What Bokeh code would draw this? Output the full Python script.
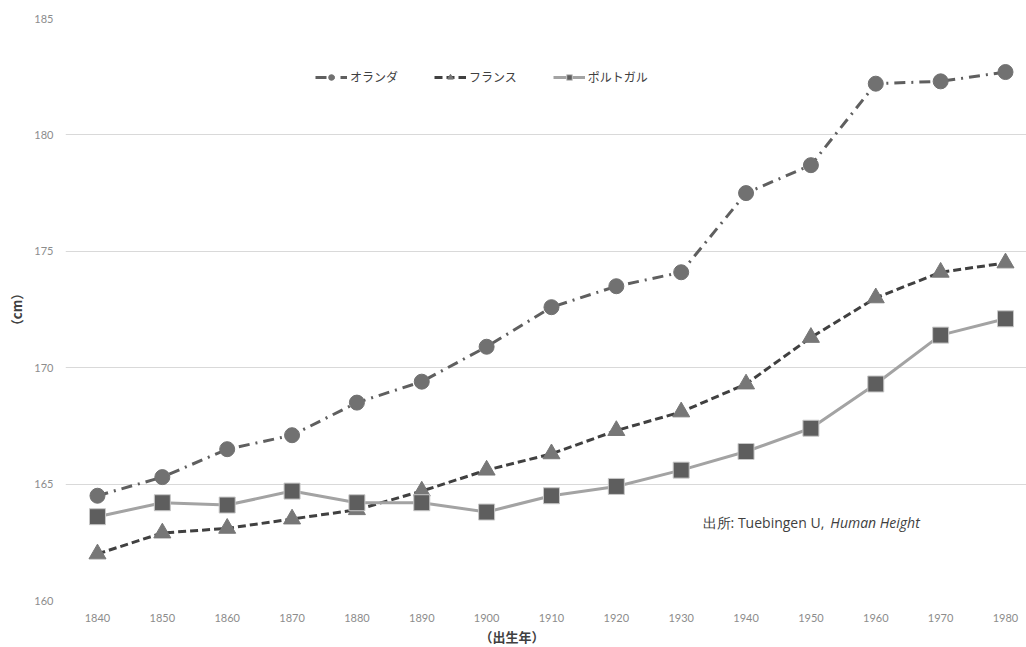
from bokeh.plotting import figure
from bokeh.models import Range1d, FixedTicker, Label, Legend, LegendItem, Title
from bokeh.embed import file_html
from bokeh.resources import INLINE

# Birth-year cohorts and average adult male height (cm)
years = [1840, 1850, 1860, 1870, 1880, 1890, 1900, 1910, 1920, 1930, 1940, 1950, 1960, 1970, 1980]
netherlands = [164.5, 165.3, 166.5, 167.1, 168.5, 169.4, 170.9, 172.6, 173.5, 174.1, 177.5, 178.7, 182.2, 182.3, 182.7]
france = [162.0, 162.9, 163.1, 163.5, 163.9, 164.7, 165.6, 166.3, 167.3, 168.1, 169.3, 171.3, 173.0, 174.1, 174.5]
portugal = [163.6, 164.2, 164.1, 164.7, 164.2, 164.2, 163.8, 164.5, 164.9, 165.6, 166.4, 167.4, 169.3, 171.4, 172.1]
y_ticks = [160, 165, 170, 175, 180, 185]
series_names = ["オランダ", "フランス", "ポルトガル"]

JP = "Noto Sans CJK JP"
TICK_FONT = "Lato"

p = figure(
    width=1026, height=647,
    x_range=Range1d(1835.07, 1983.24),
    y_range=Range1d(160, 185),
    output_backend="svg", toolbar_location=None,
    min_border_left=65, min_border_right=0,
    min_border_top=18, min_border_bottom=47,
)
p.outline_line_color = None
p.background_fill_color = "white"
p.border_fill_color = "white"

# axes
p.xaxis.ticker = FixedTicker(ticks=years)
p.yaxis.ticker = FixedTicker(ticks=y_ticks)
for ax in (p.xaxis, p.yaxis):
    ax.axis_line_color = None
    ax.major_tick_line_color = None
    ax.minor_tick_line_color = None
    ax.major_tick_out = 0
    ax.major_tick_in = 0
    ax.major_label_text_color = "#8c8c8c"
    ax.major_label_text_font = TICK_FONT
    ax.major_label_text_font_size = "11px"
p.xaxis.major_label_standoff = 13
p.yaxis.major_label_standoff = 12

p.yaxis.axis_label = "（cm）"
p.yaxis.axis_label_text_font = JP
p.yaxis.axis_label_text_font_style = "bold"
p.yaxis.axis_label_text_font_size = "13px"
p.yaxis.axis_label_text_color = "#404040"
p.yaxis.axis_label_standoff = 5

p.xgrid.grid_line_color = None
p.ygrid.grid_line_color = "#d9d9d9"
p.ygrid.grid_line_width = 1

# x-axis title, placed under the tick labels
p.add_layout(Title(
    text="（出生年）", align="left", offset=414, standoff=0,
    text_font=JP, text_font_style="bold", text_font_size="13px",
    text_color="#404040",
), "below")

# series
nl_line = p.line(years, netherlands, line_color="#5f5f5f", line_width=3, line_dash="11 6 2 6")
nl_pts = p.scatter(years, netherlands, marker="circle", size=15, fill_color="#717171", line_color="#717171")

fr_line = p.line(years, france, line_color="#404040", line_width=3, line_dash="8 4")
fr_pts = p.scatter(years, france, marker="triangle", size=17, fill_color="#777777", line_color="#777777")

pt_line = p.line(years, portugal, line_color="#a3a3a3", line_width=3)
pt_pts = p.scatter(years, portugal, marker="square", size=16, fill_color="#5e5e5e", line_color="#c8c8c8", line_width=1)

legend = Legend(
    items=[
        LegendItem(label=series_names[0], renderers=[nl_line, nl_pts]),
        LegendItem(label=series_names[1], renderers=[fr_line, fr_pts]),
        LegendItem(label=series_names[2], renderers=[pt_line, pt_pts]),
    ],
    orientation="horizontal",
    location=(250, 515),
    background_fill_alpha=0,
    border_line_color=None,
    label_text_font=JP,
    label_text_font_size="12px",
    label_text_color="#404040",
    glyph_width=32,
    glyph_height=14,
    label_standoff=3,
    spacing=36,
    padding=0,
    margin=0,
)
p.add_layout(legend)

# source note
p.add_layout(Label(
    x=1933.3, y=163.35, text="出所: Tuebingen U,",
    text_font="Open Sans", text_font_size="14px",
    text_color="#404040", text_align="left", text_baseline="middle",
))
p.add_layout(Label(
    x=1953.0, y=163.35, text="Human Height",
    text_font="Open Sans", text_font_style="italic", text_font_size="14px",
    text_color="#404040", text_align="left", text_baseline="middle",
))

open("out.html", "w").write(file_html(p, INLINE))
